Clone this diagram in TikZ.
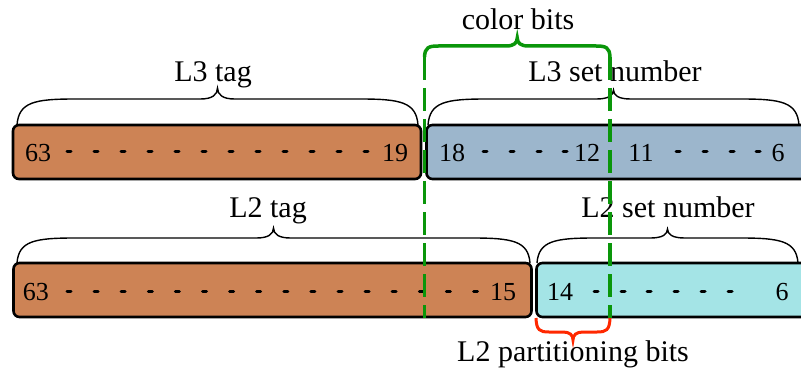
\documentclass[tikz,border=0pt]{standalone}
\usepackage{fontspec}
\setmainfont{Liberation Serif}
\definecolor{tagor}{RGB}{205,131,85}
\definecolor{setbl}{RGB}{156,182,204}
\definecolor{setcy}{RGB}{164,228,230}
\definecolor{grn}{RGB}{10,150,10}
\definecolor{rd}{RGB}{255,40,0}
% #1 style, #2 x1, #3 x2, #4 y of ends, #5 y of flat part, #6 y of tip, #7 corner length, #8 tip curl
\newcommand{\cbrace}[8][]{%
  \pgfmathsetmacro\xm{(#2+#3)/2}%
  \draw[#1] (#2,#4) .. controls ({#2+#7*0.03},{#5+(#4-#5)*0.12}) and ({#2+#7*0.3},#5) .. ({#2+#7},#5)
    -- ({\xm-#8},#5) .. controls ({\xm-#8*0.3},#5) and (\xm,{#5+(#6-#5)*0.4}) .. (\xm,#6)
    .. controls (\xm,{#5+(#6-#5)*0.4}) and ({\xm+#8*0.3},#5) .. ({\xm+#8},#5)
    -- ({#3-#7},#5) .. controls ({#3-#7*0.3},#5) and ({#3-#7*0.03},{#5+(#4-#5)*0.12}) .. (#3,#4);%
}
\begin{document}
\begin{tikzpicture}[x=1pt,y=-1pt,
  box/.style={draw=black,line width=2.6pt,rounded corners=6pt,inner sep=0pt,minimum height=54pt},
  num/.style={font=\fontsize{26}{30}\selectfont,anchor=base,inner sep=0pt},
  lab/.style={font=\fontsize{30}{36}\selectfont,anchor=base,inner sep=0pt},
  bdot/.style={line width=3pt,line cap=round},
  brc/.style={line width=1.4pt},
  gline/.style={draw=grn,line width=3.5pt},
]
\useasboundingbox (0,0) rectangle (801,377);
\clip (0,0) rectangle (801,377);

% boxes
\node[box,fill=tagor,minimum width=408pt] (t3) at (217,152) {};
\node[box,fill=setbl,minimum width=400pt] (s3) at (626.5,152) {};
\node[box,fill=tagor,minimum width=518pt] (t2) at (272.5,290) {};
\node[box,fill=setcy,minimum width=300pt] (s2) at (686.5,290) {};

% numbers, top row
\node[num] (a63) at (38,162) {63};
\node[num] (a19) at (395,162) {19};
\node[num] (a18) at (452,162) {18};
\node[num] (a12) at (587,162) {12};
\node[num] (a11) at (641,162) {11};
\node[num] (a6) at (778,162) {6};
% numbers, bottom row
\node[num] (b63) at (36,300) {63};
\node[num] (b15) at (503,300) {15};
\node[num] (b14) at (560,300) {14};
\node[num] (b6) at (782,300) {6};

% dots
\foreach \i in {0,...,11} \draw[bdot] ({69+27*\i-2},152) -- ({69+27*\i+2},152);
\foreach \x in {485,512,539,565,678,705,732,758} \draw[bdot] ({\x-2},152) -- ({\x+2},152);
\foreach \i in {0,...,15} \draw[bdot] ({69+27.1*\i-2},291) -- ({69+27.1*\i+2},291);
\foreach \x in {596,623,649,676,703,730} \draw[bdot] ({\x-2},291) -- ({\x+2},291);

% black braces
\cbrace[brc]{17}{418}{125}{99}{88}{58}{17}
\cbrace[brc]{428}{799}{125}{99}{90}{58}{17}
\cbrace[brc]{17}{530}{263}{238}{228}{58}{17}
\cbrace[brc]{537}{798}{263}{238}{229}{58}{17}

% labels
\node[lab] (l3tag) at (213,82) {L3 tag};
\node[lab] (l3set) at (615,82) {L3 set number};
\node[lab] (l2tag) at (268,218) {L2 tag};
\node[lab] (l2set) at (668,218) {L2 set number};
\node[lab] (color) at (518,30) {color bits};
\node[lab] (part) at (573,361) {L2 partitioning bits};

% green color-bits brace and dashed lines
\cbrace[draw=grn,line width=3.5pt]{424.5}{610}{57}{46}{38}{14}{11}
\draw[gline,dash pattern=on 23pt off 8pt] (424.5,57) -- (424.5,318);
\draw[gline,dash pattern=on 23pt off 8pt] (610,57) -- (610,318);

% red partitioning brace
\cbrace[draw=rd,line width=3pt]{536}{610}{318}{332}{340}{13}{10}
\end{tikzpicture}
\end{document}
